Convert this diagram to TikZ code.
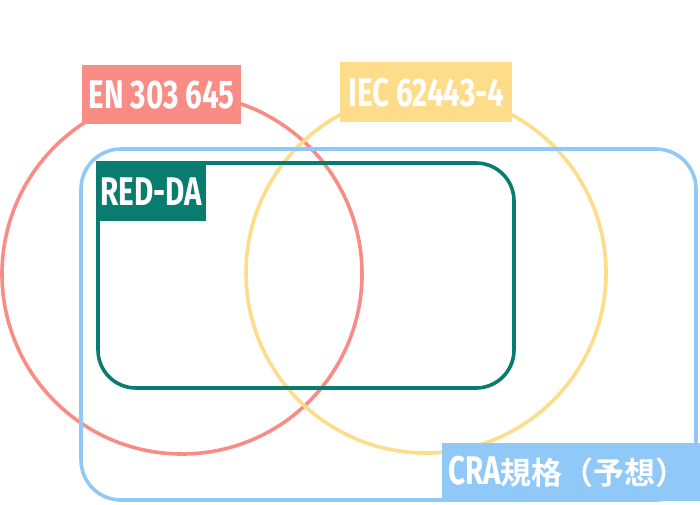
\documentclass[tikz,border=0pt]{standalone}
\usepackage{fontspec}
\setmainfont[FakeStretch=0.74,BoldFont={Fira Sans Bold}]{Fira Sans}
\newfontfamily\cjk[BoldFont={Noto Sans CJK JP Bold}]{Noto Sans CJK JP}
\definecolor{cred}{HTML}{FA8C86}
\definecolor{cyel}{HTML}{FDDC8A}
\definecolor{cteal}{HTML}{087C6E}
\definecolor{cblue}{HTML}{90C8F8}
\begin{document}
\begin{tikzpicture}[x=1pt,y=-1pt,
  lab/.style={anchor=north west,inner sep=0pt,text=white,font=\bfseries\fontsize{40}{40}\selectfont,align=center},
  ring/.style={line width=3.6pt}]
\useasboundingbox (0,0) rectangle (700,504);
\draw[ring,cred] (182,274) circle (180);
\draw[ring,cyel] (426,273) circle (180);
\draw[ring,cblue,rounded corners=40] (81,149) rectangle (696,500);
\draw[ring,cteal,rounded corners=38] (98,163) rectangle (514,388);
\node[lab,fill=cred,minimum width=159,minimum height=59] (en) at (82,65) {EN 303 645};
\node[lab,fill=cyel,minimum width=172,minimum height=60] (iec) at (340,62) {IEC 62443-4};
\node[lab,fill=cteal,minimum width=110,minimum height=60] (red) at (96,161) {RED-DA};
\node[lab,fill=cblue,minimum width=258,minimum height=58,text width=246,align=left,inner xsep=6] (cra) at (442,443) {CRA{\cjk\fontsize{31}{31}\selectfont\bfseries 規格（予想）}};
\end{tikzpicture}
\end{document}
